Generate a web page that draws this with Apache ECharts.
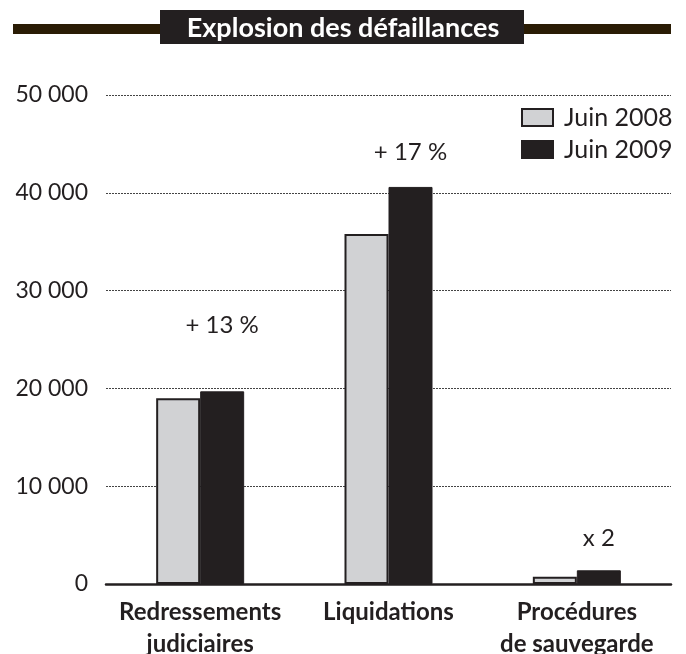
<!DOCTYPE html>
<html>
<head>
<meta charset="utf-8">
<script src="https://cdn.jsdelivr.net/npm/echarts@6/dist/echarts.min.js"></script>
<style>
  html, body { margin: 0; padding: 0; background: #fff; }
  #main { width: 686px; height: 654px; }
</style>
</head>
<body>
<div id="main"></div>
<script type="text/javascript">
    // données
    var categories = ['Redressements\njudiciaires', 'Liquidations', 'Procédures\nde sauvegarde'];
    var juin2008 = [19000, 35800, 750];
    var juin2009 = [19700, 40600, 1400];
    var variations = ['+ 13 %', '+ 17 %', 'x 2'];
    var labelDistances = [54, 23, 20];
    var yTicks = [0, 10000, 20000, 30000, 40000, 50000];

    var ink = '#231f20';
    var font = 'Lato';

    var myChart = echarts.init(document.getElementById('main'));

    var data2009 = juin2009.map(function (v, i) {
        return {
            value: v,
            label: {
                show: true,
                position: 'top',
                distance: labelDistances[i],
                formatter: variations[i],
                color: ink,
                fontFamily: font,
                fontSize: 24
            }
        };
    });

    var option = {
        backgroundColor: '#fff',
        animation: false,
        textStyle: { fontFamily: font, color: ink },
        graphic: [
            { type: 'rect', shape: { x: 13, y: 24, width: 150, height: 10 }, style: { fill: '#2a1c05' } },
            { type: 'rect', shape: { x: 520, y: 24, width: 151, height: 10 }, style: { fill: '#2a1c05' } },
            { type: 'rect', shape: { x: 160, y: 10, width: 364, height: 34 }, style: { fill: ink } },
            {
                type: 'text',
                style: {
                    x: 343, y: 28,
                    text: 'Explosion des défaillances',
                    fill: '#fff',
                    font: 'bold 27px Lato',
                    align: 'center',
                    verticalAlign: 'middle'
                }
            }
        ],
        legend: {
            orient: 'vertical',
            left: 516,
            top: 100,
            itemWidth: 31,
            itemHeight: 17,
            itemGap: 7,
            icon: 'rect',
            textStyle: { fontSize: 25, color: ink, fontFamily: font, padding: [0, 0, 0, 6] },
            data: ['Juin 2008', 'Juin 2009']
        },
        grid: {
            left: 106,
            right: 15,
            top: 95,
            bottom: 70,
            outerBoundsMode: 'none'
        },
        xAxis: {
            type: 'category',
            data: categories,
            axisTick: { show: false },
            axisLine: { lineStyle: { color: ink, width: 2.5 } },
            axisLabel: {
                color: ink,
                fontFamily: font,
                fontWeight: 'bold',
                fontSize: 24,
                lineHeight: 32,
                margin: 12,
                interval: 0
            }
        },
        yAxis: {
            type: 'value',
            min: 0,
            max: 50000,
            interval: 10000,
            axisLine: { show: false },
            axisTick: { show: false },
            splitLine: { lineStyle: { color: '#444', type: [2, 1], width: 1 } },
            axisLabel: {
                color: ink,
                fontFamily: font,
                fontSize: 23,
                margin: 18,
                formatter: function (val) {
                    return String(val).replace(/\B(?=(\d{3})+(?!\d))/g, ' ');
                }
            }
        },
        series: [{
            name: 'Juin 2008',
            type: 'bar',
            barWidth: 44,
            barGap: '0%',
            itemStyle: { color: '#d1d2d4', borderColor: ink, borderWidth: 2 },
            data: juin2008
        }, {
            name: 'Juin 2009',
            type: 'bar',
            barWidth: 44,
            barGap: '0%',
            itemStyle: { color: ink, borderColor: ink, borderWidth: 1 },
            data: data2009
        }]
    };
    myChart.setOption(option);
</script>
</body>
</html>
